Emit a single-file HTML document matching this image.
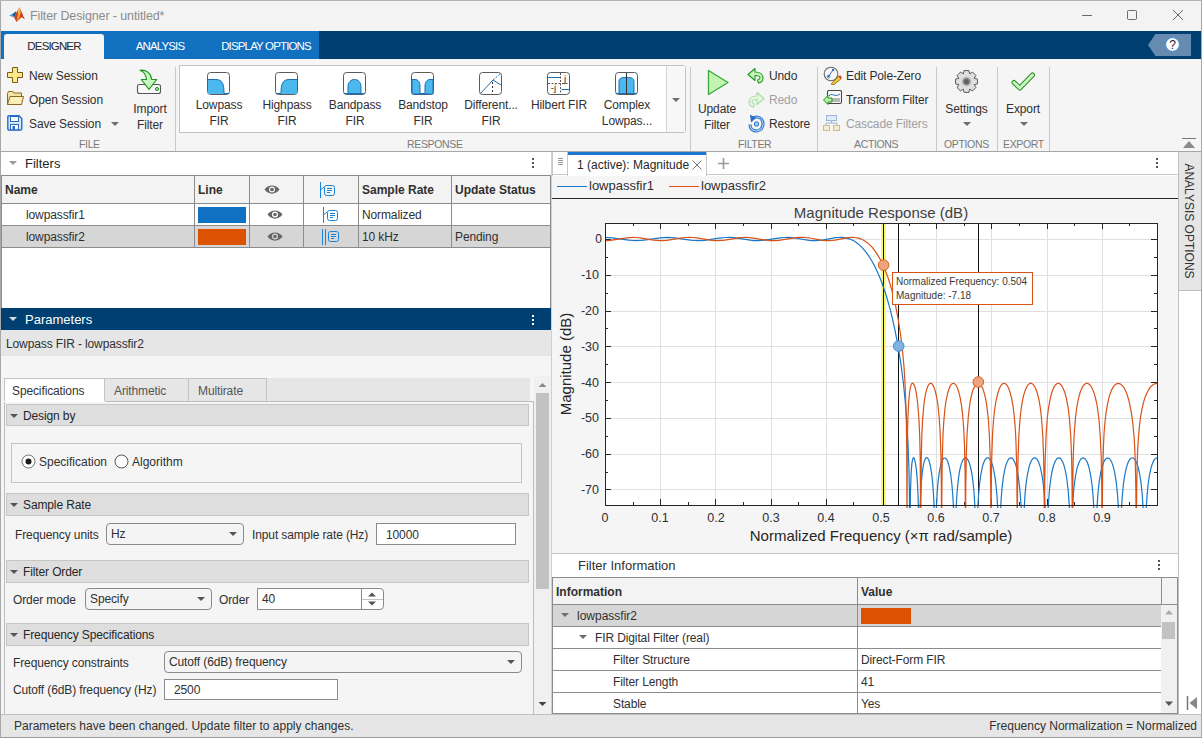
<!DOCTYPE html>
<html><head><meta charset="utf-8">
<style>
*{box-sizing:border-box}
html,body{margin:0;padding:0}
body{width:1202px;height:738px;overflow:hidden;position:relative;background:#f5f5f5;font-family:"Liberation Sans",sans-serif;font-size:12px;color:#303030;letter-spacing:-0.12px}
.ar{letter-spacing:0}
.a{position:absolute}
.t{position:absolute;white-space:nowrap;line-height:16px}
.c{text-align:center}
.lbl{position:absolute;color:#7a7a7a;font-size:10.5px;letter-spacing:-0.35px;line-height:12px;white-space:nowrap}
.sep{position:absolute;width:1px;background:#c8c8c8;top:67px;height:84px}
.hdr{position:absolute;left:6px;width:523px;height:23px;background:#dedede;border:1px solid #c6c6c6}
.hdr .tri{position:absolute;left:3px;top:9px;width:0;height:0;border-left:4px solid transparent;border-right:4px solid transparent;border-top:4px solid #555}
.hdr span{position:absolute;left:16px;top:3px;line-height:16px;font-size:12px;color:#262626}
.dd{position:absolute;background:#f4f4f4;border:1px solid #8a8a8a;border-radius:4px}
.dd span{position:absolute;left:4px;top:2px;line-height:16px}
.dd i{position:absolute;right:6px;top:8px;width:0;height:0;border-left:4px solid transparent;border-right:4px solid transparent;border-top:4px solid #555}
.inp{position:absolute;background:#fff;border:1px solid #8a8a8a}
.inp span{position:absolute;left:9px;top:2px;line-height:16px}
.kb{position:absolute;width:2px;height:2px;background:#555;box-shadow:0 4px 0 #555,0 8px 0 #555}
.ctri{position:absolute;width:0;height:0;border-left:4px solid transparent;border-right:4px solid transparent;border-top:4px solid #6e6e6e}
</style></head><body>
<!-- title bar -->
<div class="a" style="left:0;top:0;width:1202px;height:31px;background:#f3f3f3"></div>
<div class="a" style="left:0;top:0;width:1px;height:738px;background:#a8a8a8;z-index:50"></div><div class="a" style="left:0;top:0;width:1202px;height:1px;background:#b4b4b4;z-index:50"></div><div class="a" style="left:1201px;top:0;width:1px;height:738px;background:#a8a8a8;z-index:50"></div>
<svg class="a" style="left:0;top:0" width="30" height="30">
<path d="M9.2,15.6 L13.5,13.2 L16.5,11.2 L15.5,15.5 L13.5,17.2 Z" fill="#3d9be0"/>
<path d="M12.5,14.2 L16.2,11.3 L14.5,17 Z" fill="#24508a"/>
<path d="M14,17.2 L19.3,7.6 L21.5,11.5 L23.5,16.5 L25,19.3 L21.5,17.2 L16.5,22 Z" fill="#c8401c"/>
<path d="M16.5,21.5 L18.2,12 L19.3,7.6 L21,12.5 L19.5,17.5 Z" fill="#f0a030"/>
<path d="M18,10.5 L19.3,7.6 L20,10.5 L18.8,15 Z" fill="#f8c858"/>
</svg>
<div class="t" style="left:30px;top:8px;font-size:12.5px;color:#8c8c8c">Filter Designer - untitled*</div>
<div class="a" style="left:1082px;top:15px;width:10px;height:1px;background:#6a6a6a"></div>
<div class="a" style="left:1127px;top:10px;width:10px;height:10px;border:1px solid #6a6a6a;border-radius:1.5px"></div>
<svg class="a" style="left:1173px;top:10px" width="10" height="10"><path d="M0,0 L10,10 M10,0 L0,10" stroke="#666" stroke-width="1"/></svg>
<!-- tab strip -->
<div class="a" style="left:0;top:31px;width:319px;height:28px;background:#1170c0"></div>
<div class="a" style="left:319px;top:31px;width:883px;height:28px;background:#003f72"></div>
<div class="a" style="left:4px;top:34px;width:100px;height:25px;background:#f5f5f5;border-radius:3px 3px 0 0"></div>
<div class="t c" style="left:4px;top:38px;width:100px;font-size:11.5px;letter-spacing:-0.85px;color:#262626">DESIGNER</div>
<div class="t c" style="left:110px;top:38px;width:100px;font-size:11.5px;letter-spacing:-0.85px;color:#fff">ANALYSIS</div>
<div class="t c" style="left:216px;top:38px;width:100px;font-size:11.5px;letter-spacing:-0.85px;color:#fff">DISPLAY OPTIONS</div>
<svg class="a" style="left:1148px;top:34px" width="44" height="22"><path d="M0,11 L7.5,0 H43 V22 H7.5 Z" fill="#668bb0"/><circle cx="24.5" cy="10.5" r="6.8" fill="#fff" stroke="#3d8fe0" stroke-width="0.8"/><text x="24.5" y="15" font-family="Liberation Sans" font-size="12" fill="#222" text-anchor="middle" letter-spacing="0">?</text></svg>
<!-- ribbon -->
<div class="a" style="left:0;top:59px;width:1202px;height:92px;background:#f5f5f5"></div>
<div class="a" style="left:0;top:151px;width:1202px;height:1px;background:#a6a6a6"></div>
<!-- FILE section -->
<svg class="a" style="left:7px;top:67px" width="17" height="17"><path d="M5.5,0.5 H10.5 V5.5 H15.5 V10.5 H10.5 V15.5 H5.5 V10.5 H0.5 V5.5 H5.5 Z" fill="#fde88a" stroke="#7a5c10" stroke-width="1" stroke-linejoin="round"/></svg>
<div class="t" style="left:29px;top:68px">New Session</div>
<svg class="a" style="left:7px;top:91px" width="17" height="15"><path d="M0.5,2.5 L1.5,0.5 H6 L7,2 H14.5 V13.5 H0.5 Z" fill="#f4e2a0" stroke="#8a6a20"/><path d="M0.5,13.5 L3,5.5 H16.5 L14.5,13.5 Z" fill="#fbeeb8" stroke="#8a6a20"/></svg>
<div class="t" style="left:29px;top:92px">Open Session</div>
<svg class="a" style="left:7px;top:115px" width="16" height="16"><path d="M0.8,2 Q0.8,0.8 2,0.8 H12 L14.8,3.6 V13.8 Q14.8,15 13.6,15 H2 Q0.8,15 0.8,13.8 Z" fill="#d4e8fb" stroke="#2a6cc4" stroke-width="1.4"/><rect x="3.5" y="1.5" width="8" height="5" fill="#fff" stroke="#2a6cc4" stroke-width="1"/><rect x="3.5" y="9.5" width="8" height="5.3" fill="#fff" stroke="#2a6cc4" stroke-width="1"/><rect x="5.5" y="11" width="2.5" height="3.8" fill="#2a6cc4"/></svg>
<div class="t" style="left:29px;top:116px">Save Session</div>
<div class="ctri" style="left:111px;top:122px"></div>
<svg class="a" style="left:130px;top:64px" width="40" height="34"><rect x="7.5" y="20.5" width="23" height="9" rx="2" fill="#fafafa" stroke="#555" stroke-width="1.1"/><circle cx="27" cy="25" r="1.6" fill="#9fe09f" stroke="#1f961f" stroke-width="1"/><path d="M10,6.2 C16,5.5 21,9 21.7,15.5 L26.7,15.5 L19,25.3 L11.3,15.5 L16.5,15.5 C16,11 14,7.5 10,6.2 Z" fill="#c8f8c0" stroke="#1f961f" stroke-width="1.1" stroke-linejoin="round"/></svg>
<div class="t c" style="left:125px;top:101px;width:50px">Import</div>
<div class="t c" style="left:125px;top:117px;width:50px">Filter</div>
<div class="lbl" style="left:79px;top:138px">FILE</div>
<div class="sep" style="left:175px"></div>
<!-- RESPONSE gallery -->
<div class="a" style="left:179px;top:65px;width:507px;height:68px;background:#fff;border:1px solid #c3c3c3;border-radius:0 3px 3px 0"></div>
<div class="a" style="left:666px;top:66px;width:1px;height:66px;background:#d4d4d4"></div>
<div class="a" style="left:667px;top:66px;width:18px;height:66px;background:#f7f7f7"></div>
<div class="ctri" style="left:672px;top:98px"></div>
<svg class="a" style="left:206px;top:72px" width="25" height="24">
<rect x="1.5" y="0.5" width="22" height="22" rx="3" fill="#fff" stroke="#5a5a5a"/>
<path d="M2,7.5 H10 C17,7.5 18,13 18,22 H2 Z" fill="#4cb9ee"/><path d="M2,7.5 H10 C17,7.5 18,13 18,21.5 H23" fill="none" stroke="#1b6fb5" stroke-width="1"/></svg>
<div class="t c" style="left:185px;top:97px;width:68px">Lowpass</div>
<div class="t c" style="left:185px;top:113px;width:68px">FIR</div>
<svg class="a" style="left:274px;top:72px" width="25" height="24">
<rect x="1.5" y="0.5" width="22" height="22" rx="3" fill="#fff" stroke="#5a5a5a"/>
<path d="M23,7.5 H15 C8,7.5 7,13 7,22 H23 Z" fill="#4cb9ee"/><path d="M23,7.5 H15 C8,7.5 7,13 7,21.5 H2" fill="none" stroke="#1b6fb5" stroke-width="1"/></svg>
<div class="t c" style="left:253px;top:97px;width:68px">Highpass</div>
<div class="t c" style="left:253px;top:113px;width:68px">FIR</div>
<svg class="a" style="left:342px;top:72px" width="25" height="24">
<rect x="1.5" y="0.5" width="22" height="22" rx="3" fill="#fff" stroke="#5a5a5a"/>
<path d="M6,22 V15 C6,10 9,7.5 12.5,7.5 C16,7.5 19,10 19,15 V22 Z" fill="#4cb9ee" stroke="#1b6fb5"/><path d="M2,21.5 H23" stroke="#1b6fb5"/></svg>
<div class="t c" style="left:321px;top:97px;width:68px">Bandpass</div>
<div class="t c" style="left:321px;top:113px;width:68px">FIR</div>
<svg class="a" style="left:410px;top:72px" width="25" height="24">
<rect x="1.5" y="0.5" width="22" height="22" rx="3" fill="#fff" stroke="#5a5a5a"/>
<path d="M2,7.5 H5 C8,7.5 10,10 10,14 V21.5 H15 V14 C15,10 17,7.5 20,7.5 H23 V22 H2 Z" fill="#4cb9ee" stroke="#1b6fb5"/></svg>
<div class="t c" style="left:389px;top:97px;width:68px">Bandstop</div>
<div class="t c" style="left:389px;top:113px;width:68px">FIR</div>
<svg class="a" style="left:478px;top:72px" width="25" height="24">
<rect x="1.5" y="0.5" width="22" height="22" rx="3" fill="#fff" stroke="#5a5a5a"/>
<path d="M2.5,21.5 L15,8 L23,13" fill="none" stroke="#1b6fb5"/><path d="M15,8 L22,2" stroke="#1b6fb5" stroke-dasharray="2,1.5"/><path d="M14.5,10 V22" stroke="#333" stroke-dasharray="2,2"/></svg>
<div class="t c" style="left:457px;top:97px;width:68px">Different...</div>
<div class="t c" style="left:457px;top:113px;width:68px">FIR</div>
<svg class="a" style="left:546px;top:72px" width="25" height="24">
<rect x="1.5" y="0.5" width="22" height="22" rx="3" fill="#fff" stroke="#5a5a5a"/>
<path d="M2,5.5 H15 M15.5,17.5 H23" stroke="#1b6fb5" stroke-width="1.2"/><path d="M2,11.5 H23 M14.5,1 V22" stroke="#555" stroke-dasharray="2,1.5"/>
<text x="19" y="9.5" font-family="Liberation Sans" font-size="9.5" fill="#222" text-anchor="middle" letter-spacing="0">j</text><text x="7.5" y="19" font-family="Liberation Sans" font-size="9.5" fill="#222" text-anchor="middle" letter-spacing="0">-j</text></svg>
<div class="t c" style="left:525px;top:97px;width:68px">Hilbert FIR</div>
<svg class="a" style="left:614px;top:72px" width="25" height="24">
<rect x="1.5" y="0.5" width="22" height="22" rx="3" fill="#fff" stroke="#5a5a5a"/>
<path d="M5,21.5 V10 C5,6 7,5.5 12.5,5.5 C18,5.5 20,6 20,10 V21.5 Z" fill="#4cb9ee" stroke="#1b6fb5"/><path d="M2,21.5 H23" stroke="#1b6fb5"/><path d="M12.5,1 V22" stroke="#333"/></svg>
<div class="t c" style="left:593px;top:97px;width:68px">Complex</div>
<div class="t c" style="left:593px;top:113px;width:68px">Lowpas...</div>
<div class="lbl" style="left:407px;top:138px">RESPONSE</div>
<div class="sep" style="left:690px"></div>
<!-- FILTER section -->
<svg class="a" style="left:706px;top:69px" width="24" height="27"><path d="M2.5,1.5 L22,13.5 L2.5,25.5 Z" fill="#c4f4b4" stroke="#39a839" stroke-width="1.3" stroke-linejoin="round"/></svg>
<div class="t c" style="left:692px;top:101px;width:50px">Update</div>
<div class="t c" style="left:692px;top:117px;width:50px">Filter</div>
<svg class="a" style="left:747px;top:67px" width="18" height="17"><path d="M1,7.5 L8,1.5 L8,5 C13,5 16,7.5 16,11 C16,13.5 14.5,15.5 11.5,16 L10.5,13 C12,12.5 13,11.8 13,10.5 C13,9 11,8.5 8,8.5 L8,13.5 Z" fill="#c8f4b8" stroke="#1f961f" stroke-width="1.1" stroke-linejoin="round"/></svg>
<div class="t" style="left:769px;top:68px">Undo</div>
<svg class="a" style="left:747px;top:91px" width="18" height="17"><path d="M17,7.5 L10,1.5 L10,5 C5,5 2,7.5 2,11 C2,13.5 3.5,15.5 6.5,16 L7.5,13 C6,12.5 5,11.8 5,10.5 C5,9 7,8.5 10,8.5 L10,13.5 Z" fill="#e8f8e0" stroke="#a8dca0" stroke-width="1.1" stroke-linejoin="round"/></svg>
<div class="t" style="left:769px;top:92px;color:#a0a0a0">Redo</div>
<svg class="a" style="left:747px;top:114px" width="18" height="19"><path d="M5,4.5 C7,3.2 8,3 9.5,3 C13.5,3 16,6 16,10 C16,14 13,17 9.5,17 C6,17 3,14.5 3,10.5" fill="none" stroke="#2a6cc4" stroke-width="3.2"/><path d="M5,4.5 C7,3.2 8,3 9.5,3 C13.5,3 16,6 16,10 C16,14 13,17 9.5,17 C6,17 3,14.5 3,10.5" fill="none" stroke="#a8d0f4" stroke-width="1.2"/><path d="M3,0.5 L9,4 L4,8.5 Z" fill="#2a6cc4"/><circle cx="9.5" cy="10" r="2.2" fill="#a8d0f4" stroke="#2a6cc4"/></svg>
<div class="t" style="left:769px;top:116px">Restore</div>
<div class="lbl" style="left:738px;top:138px">FILTER</div>
<div class="sep" style="left:817px"></div>
<!-- ACTIONS -->
<svg class="a" style="left:823px;top:66px" width="19" height="19"><circle cx="8" cy="8" r="6.8" fill="#f6f6f6" stroke="#666" stroke-width="1.1"/><path d="M5,11 L10,4" stroke="#2d6bc0" stroke-width="1"/><circle cx="5.5" cy="10.5" r="1.3" fill="none" stroke="#2d6bc0"/><path d="M9,3 L11,5 M11,3 L9,5" stroke="#2d6bc0"/><path d="M8.5,17.5 L15.5,10.5 L18,13 L11,18.5 L8.5,18.5 Z" fill="#f4c430" stroke="#8a6a10" stroke-width="0.8"/><path d="M15.5,10.5 L17,9 L19,11.5 L18,13 Z" fill="#e04040"/></svg>
<div class="t" style="left:846px;top:68px">Edit Pole-Zero</div>
<svg class="a" style="left:823px;top:90px" width="19" height="18"><rect x="4.5" y="0.5" width="14" height="13" rx="1.5" fill="#f8f8f8" stroke="#444" stroke-width="1.1"/><path d="M6,6 C9,2 12,8 17,4" stroke="#2d6bc0" fill="none"/><path d="M9,9 H17 M9,11 H17" stroke="#777" stroke-width="1.2"/><path d="M0.5,10 L5,5.5 V8 H9 V12 H5 V14.5 Z" fill="#b8f0a8" stroke="#1f961f" stroke-linejoin="round"/></svg>
<div class="t" style="left:846px;top:92px">Transform Filter</div>
<svg class="a" style="left:823px;top:115px" width="17" height="16" opacity="0.45"><rect x="3.5" y="0.5" width="10" height="5" fill="#cfe3f7" stroke="#2d6bc0"/><path d="M8.5,5.5 V8 M3,8 H14 M3,8 V10 M14,8 V10" stroke="#2d6bc0"/><rect x="0.5" y="10.5" width="6" height="5" fill="#f6e2a0" stroke="#a07a20"/><rect x="10.5" y="10.5" width="6" height="5" fill="#f6e2a0" stroke="#a07a20"/></svg>
<div class="t" style="left:846px;top:116px;color:#a0a0a0">Cascade Filters</div>
<div class="lbl" style="left:854px;top:138px">ACTIONS</div>
<div class="sep" style="left:936px"></div>
<!-- OPTIONS -->
<svg class="a" style="left:953px;top:68px" width="27" height="27"><defs><radialGradient id="gg"><stop offset="0" stop-color="#555"/><stop offset="0.45" stop-color="#6a6a6a"/><stop offset="1" stop-color="#d8d8d8"/></radialGradient></defs><path d="M21.18,10.34 L24.43,11.06 L24.43,15.94 L21.18,16.66 L21.16,16.70 L22.96,19.50 L19.50,22.96 L16.70,21.16 L16.66,21.18 L15.94,24.43 L11.06,24.43 L10.34,21.18 L10.30,21.16 L7.50,22.96 L4.04,19.50 L5.84,16.70 L5.82,16.66 L2.57,15.94 L2.57,11.06 L5.82,10.34 L5.84,10.30 L4.04,7.50 L7.50,4.04 L10.30,5.84 L10.34,5.82 L11.06,2.57 L15.94,2.57 L16.66,5.82 L16.70,5.84 L19.50,4.04 L22.96,7.50 L21.16,10.30 Z" fill="#dedede" stroke="#5a5a5a" stroke-width="1" stroke-linejoin="round"/><circle cx="13.5" cy="13.5" r="5" fill="url(#gg)"/></svg>
<div class="t c" style="left:936px;top:101px;width:61px">Settings</div>
<div class="ctri" style="left:963px;top:122px"></div>
<div class="lbl" style="left:944px;top:138px">OPTIONS</div>
<div class="sep" style="left:997px"></div>
<!-- EXPORT -->
<svg class="a" style="left:1010px;top:71px" width="26" height="21"><path d="M4,11.5 L9.8,17 L22.5,4" fill="none" stroke="#2e8b2e" stroke-width="5" stroke-linecap="round" stroke-linejoin="round"/><path d="M4,11.5 L9.8,17 L22.5,4" fill="none" stroke="#c6f8bc" stroke-width="3" stroke-linecap="round" stroke-linejoin="round"/></svg>
<div class="t c" style="left:997px;top:101px;width:52px">Export</div>
<div class="ctri" style="left:1020px;top:122px"></div>
<div class="lbl" style="left:1003px;top:138px">EXPORT</div>
<div class="sep" style="left:1049px"></div>
<svg class="a" style="left:1182px;top:138px" width="14" height="11"><path d="M0,0.5 H14" stroke="#777"/><path d="M1,10 L7,3 L13,10 Z" fill="#8a8a8a"/></svg>
<!-- LEFT PANEL: Filters -->
<div class="a" style="left:1px;top:152px;width:550px;height:156px;background:#fff"></div>
<div class="a" style="left:9px;top:161px;width:0;height:0;border-left:4px solid transparent;border-right:4px solid transparent;border-top:4px solid #9a9a9a"></div>
<div class="t ar" style="left:25px;top:156px;font-size:13px;color:#262626">Filters</div>
<div class="kb" style="left:532px;top:158px"></div>
<div class="a" style="left:1px;top:175px;width:550px;height:133px;border:1px solid #8c8c8c;border-bottom:none;background:#fff"></div>
<div class="a" style="left:2px;top:176px;width:548px;height:27px;background:#f3f3f3"></div>
<div class="a" style="left:2px;top:203px;width:548px;height:1px;background:#8c8c8c"></div>
<div class="a" style="left:2px;top:226px;width:548px;height:22px;background:#d6d6d6"></div>
<div class="a" style="left:2px;top:225px;width:548px;height:1px;background:#8c8c8c"></div>
<div class="a" style="left:2px;top:247px;width:548px;height:1px;background:#8c8c8c"></div>
<div class="a" style="left:194px;top:176px;width:1px;height:72px;background:#8c8c8c"></div>
<div class="a" style="left:249px;top:176px;width:1px;height:72px;background:#8c8c8c"></div>
<div class="a" style="left:303px;top:176px;width:1px;height:72px;background:#8c8c8c"></div>
<div class="a" style="left:358px;top:176px;width:1px;height:72px;background:#8c8c8c"></div>
<div class="a" style="left:451px;top:176px;width:1px;height:72px;background:#8c8c8c"></div>
<div class="t ar" style="left:5px;top:182px;font-weight:bold">Name</div>
<div class="t ar" style="left:198px;top:182px;font-weight:bold">Line</div>
<div class="t ar" style="left:362px;top:182px;font-weight:bold">Sample Rate</div>
<div class="t ar" style="left:455px;top:182px;font-weight:bold">Update Status</div>
<svg class="a" style="left:264px;top:184px" width="16" height="11"><path d="M0.5,5.5 C4,0 12,0 15.5,5.5 C12,11 4,11 0.5,5.5 Z" fill="#666"/><circle cx="8" cy="5.5" r="3" fill="#f3f3f3"/><circle cx="8" cy="5.5" r="1.8" fill="#666"/></svg>
<svg class="a" style="left:319px;top:182px" width="17" height="16"><path d="M1.5,0 V16" stroke="#1a84d8"/><path d="M1.5,8 L5,5" stroke="#1a84d8"/><rect x="5.5" y="3.5" width="10" height="10" rx="2" fill="none" stroke="#1a84d8"/><path d="M8,6.5 H13 M8,8.5 H13 M8,10.5 H11" stroke="#1a84d8"/></svg>
<div class="t" style="left:26px;top:207px">lowpassfir1</div>
<div class="a" style="left:198px;top:207px;width:48px;height:16px;background:#1071c2"></div>
<svg class="a" style="left:267px;top:209px" width="16" height="11"><path d="M0.5,5.5 C4,0 12,0 15.5,5.5 C12,11 4,11 0.5,5.5 Z" fill="#666"/><circle cx="8" cy="5.5" r="3" fill="#fff"/><circle cx="8" cy="5.5" r="1.8" fill="#666"/></svg>
<svg class="a" style="left:322px;top:207px" width="17" height="16"><path d="M1.5,0 V16" stroke="#1a84d8"/><path d="M1.5,8 L5,5" stroke="#1a84d8"/><rect x="5.5" y="3.5" width="10" height="10" rx="2" fill="none" stroke="#1a84d8"/><path d="M8,6.5 H13 M8,8.5 H13 M8,10.5 H11" stroke="#1a84d8"/></svg>
<div class="t" style="left:362px;top:207px">Normalized</div>
<div class="t" style="left:26px;top:229px">lowpassfir2</div>
<div class="a" style="left:198px;top:229px;width:48px;height:16px;background:#dc5200"></div>
<svg class="a" style="left:267px;top:231px" width="16" height="11"><path d="M0.5,5.5 C4,0 12,0 15.5,5.5 C12,11 4,11 0.5,5.5 Z" fill="#666"/><circle cx="8" cy="5.5" r="3" fill="#d6d6d6"/><circle cx="8" cy="5.5" r="1.8" fill="#666"/></svg>
<svg class="a" style="left:321px;top:228px" width="20" height="18"><path d="M1.5,1 V17 M4.5,1 V17" stroke="#1a84d8"/><rect x="7.5" y="3.5" width="10" height="10" rx="2" fill="none" stroke="#1a84d8"/><path d="M10,6.5 H15 M10,8.5 H15 M10,10.5 H13" stroke="#1a84d8"/></svg>
<div class="t" style="left:362px;top:229px">10 kHz</div>
<div class="t" style="left:455px;top:229px">Pending</div>
<div class="a" style="left:550px;top:175px;width:1px;height:133px;background:#8c8c8c"></div>
<!-- Parameters -->
<div class="a" style="left:1px;top:308px;width:550px;height:22px;background:#003f72"></div>
<div class="a" style="left:9px;top:317px;width:0;height:0;border-left:4px solid transparent;border-right:4px solid transparent;border-top:4px solid #d8dde4"></div>
<div class="t ar" style="left:25px;top:312px;font-size:13px;color:#fff">Parameters</div>
<div class="kb" style="left:532px;top:315px;background:#fff;box-shadow:0 4px 0 #fff,0 8px 0 #fff"></div>
<div class="a" style="left:1px;top:330px;width:550px;height:26px;background:#e6e6e6"></div>
<div class="t" style="left:6px;top:336px">Lowpass FIR - lowpassfir2</div>
<div class="a" style="left:1px;top:356px;width:550px;height:358px;background:#f5f5f5"></div>
<!-- tabs -->
<div class="a" style="left:4px;top:378px;width:526px;height:24px;background:#e6e6e6"></div>
<div class="a" style="left:4px;top:378px;width:101px;height:24px;background:#fff;border:1px solid #c3c3c3;border-bottom:none"></div>
<div class="a" style="left:105px;top:378px;width:84px;height:23px;border:1px solid #c3c3c3;border-left:none;border-bottom:none"></div>
<div class="a" style="left:189px;top:378px;width:78px;height:23px;border:1px solid #c3c3c3;border-left:none;border-bottom:none"></div>
<div class="t" style="left:12px;top:383px;color:#333">Specifications</div>
<div class="t" style="left:114px;top:383px;color:#555">Arithmetic</div>
<div class="t" style="left:198px;top:383px;color:#555">Multirate</div>
<div class="a" style="left:4px;top:401px;width:530px;height:313px;border:1px solid #bdbdbd;border-bottom:none;background:#f5f5f5"></div>
<div class="a" style="left:4px;top:401px;width:101px;height:1px;background:#fff"></div>
<!-- scrollbar -->
<div class="a" style="left:534px;top:376px;width:17px;height:338px;background:#f0f0f0"></div>
<svg class="a" style="left:538px;top:382px" width="9" height="6"><path d="M0.5,5 L4.5,1 L8.5,5 Z" fill="#8a8a8a"/></svg>
<div class="a" style="left:536px;top:393px;width:13px;height:196px;background:#c2c2c2"></div>
<svg class="a" style="left:538px;top:701px" width="9" height="6"><path d="M0.5,1 L4.5,5 L8.5,1 Z" fill="#444"/></svg>
<!-- Design by -->
<div class="hdr" style="top:404px;height:22px"><div class="tri"></div><span>Design by</span></div>
<div class="a" style="left:11px;top:443px;width:511px;height:40px;border:1px solid #c3c3c3"></div>
<svg class="a" style="left:21px;top:454px" width="15" height="15"><circle cx="7.5" cy="7.5" r="6.5" fill="#fff" stroke="#666" stroke-width="0.9"/><circle cx="7.5" cy="7.5" r="3" fill="#1a1a1a"/></svg>
<div class="t ar" style="left:39px;top:454px">Specification</div>
<svg class="a" style="left:114px;top:454px" width="15" height="15"><circle cx="7.5" cy="7.5" r="6.5" fill="#fff" stroke="#555"/></svg>
<div class="t ar" style="left:132px;top:454px">Algorithm</div>
<!-- Sample Rate -->
<div class="hdr" style="top:493px"><div class="tri"></div><span>Sample Rate</span></div>
<div class="t" style="left:15px;top:527px">Frequency units</div>
<div class="dd" style="left:106px;top:523px;width:138px;height:22px"><span>Hz</span><i></i></div>
<div class="t" style="left:252px;top:527px">Input sample rate (Hz)</div>
<div class="inp" style="left:376px;top:523px;width:140px;height:22px"><span style="top:3px">10000</span></div>
<!-- Filter Order -->
<div class="hdr" style="top:560px"><div class="tri"></div><span>Filter Order</span></div>
<div class="t" style="left:13px;top:592px">Order mode</div>
<div class="dd" style="left:85px;top:588px;width:127px;height:22px"><span>Specify</span><i></i></div>
<div class="t" style="left:219px;top:592px">Order</div>
<div class="a" style="left:257px;top:588px;width:127px;height:22px;background:#fff;border:1px solid #8a8a8a;border-radius:0 4px 4px 0"></div>
<div class="a" style="left:361px;top:588px;width:1px;height:22px;background:#8a8a8a"></div>
<div class="a" style="left:362px;top:599px;width:21px;height:1px;background:#c3c3c3"></div>
<svg class="a" style="left:367px;top:591px" width="10" height="16"><path d="M1,5.5 L5,1.5 L9,5.5 Z M1,10.5 L5,14.5 L9,10.5 Z" fill="#555"/></svg>
<div class="t" style="left:262px;top:591px">40</div>
<!-- Frequency Specifications -->
<div class="hdr" style="top:623px"><div class="tri"></div><span>Frequency Specifications</span></div>
<div class="t" style="left:13px;top:655px">Frequency constraints</div>
<div class="dd" style="left:164px;top:651px;width:358px;height:22px"><span>Cutoff (6dB) frequency</span><i></i></div>
<div class="t" style="left:13px;top:682px">Cutoff (6dB) frequency (Hz)</div>
<div class="inp" style="left:164px;top:679px;width:174px;height:21px"><span>2500</span></div>
<!-- RIGHT PANEL -->
<div class="a" style="left:551px;top:152px;width:1px;height:562px;background:#d0d0d0"></div>
<div class="a" style="left:552px;top:152px;width:626px;height:24px;background:#fff;border-left:1px solid #c8c8c8"></div>
<div class="a" style="left:552px;top:152px;width:16px;height:24px;background:#fff;border:1px solid #c8c8c8;border-top:none;border-bottom:none"></div>
<div class="a" style="left:558px;top:158px;width:5px;height:1px;background:#999;box-shadow:0 2px 0 #999,0 4px 0 #999,0 6px 0 #999"></div>
<div class="a" style="left:568px;top:152px;width:139px;height:24px;background:#fff;border-right:1px solid #c8c8c8"></div>
<div class="a" style="left:568px;top:152px;width:138px;height:3px;background:#1a78d0"></div>
<div class="t ar" style="left:577px;top:157px;color:#262626">1 (active): Magnitude</div>
<svg class="a" style="left:692px;top:160px" width="10" height="10"><path d="M0.5,0.5 L9.5,9.5 M9.5,0.5 L0.5,9.5" stroke="#666" stroke-width="0.9"/></svg>
<svg class="a" style="left:718px;top:158px" width="11" height="11"><path d="M5.5,0 V11 M0,5.5 H11" stroke="#9a9a9a" stroke-width="1.6"/></svg>
<div class="kb" style="left:1156px;top:158px"></div>
<div class="a" style="left:552px;top:174px;width:16px;height:1px;background:#c8c8c8"></div><div class="a" style="left:707px;top:174px;width:471px;height:1px;background:#c8c8c8"></div>
<div class="a" style="left:552px;top:176px;width:626px;height:22px;background:#f5f5f5"></div>
<div class="a" style="left:557px;top:186px;width:30px;height:1px;background:#1a78c8"></div>
<div class="t ar" style="left:589px;top:178px;font-size:13px">lowpassfir1</div>
<div class="a" style="left:669px;top:186px;width:30px;height:1px;background:#d95319"></div>
<div class="t ar" style="left:701px;top:178px;font-size:13px">lowpassfir2</div>
<div class="a" style="left:552px;top:198px;width:626px;height:1px;background:#262626"></div>
<div class="a" style="left:552px;top:199px;width:626px;height:355px;background:#f5f5f5"></div>
<div class="a" style="left:552px;top:553px;width:626px;height:1px;background:#c8c8c8"></div>
<svg width="1202" height="738" style="position:absolute;left:0;top:0">
<defs><clipPath id="ax"><rect x="605" y="223" width="552" height="285"/></clipPath></defs>
<rect x="605" y="223" width="552" height="282" fill="#fff"/>
<path d="M660.5,223 V505 M715.5,223 V505 M771.5,223 V505 M826.5,223 V505 M881.5,223 V505 M936.5,223 V505 M991.5,223 V505 M1047.5,223 V505 M1102.5,223 V505 M605,239.5 H1157 M605,275.5 H1157 M605,311.5 H1157 M605,346.5 H1157 M605,382.5 H1157 M605,418.5 H1157 M605,454.5 H1157 M605,489.5 H1157" stroke="#dfdfdf" stroke-width="1" fill="none"/>
<path d="M605.5,505 v-6 M605.5,223 v6 M633.5,505 v-3 M633.5,223 v3 M660.5,505 v-6 M660.5,223 v6 M688.5,505 v-3 M688.5,223 v3 M715.5,505 v-6 M715.5,223 v6 M743.5,505 v-3 M743.5,223 v3 M771.5,505 v-6 M771.5,223 v6 M798.5,505 v-3 M798.5,223 v3 M826.5,505 v-6 M826.5,223 v6 M853.5,505 v-3 M853.5,223 v3 M881.5,505 v-6 M881.5,223 v6 M909.5,505 v-3 M909.5,223 v3 M936.5,505 v-6 M936.5,223 v6 M964.5,505 v-3 M964.5,223 v3 M991.5,505 v-6 M991.5,223 v6 M1019.5,505 v-3 M1019.5,223 v3 M1047.5,505 v-6 M1047.5,223 v6 M1074.5,505 v-3 M1074.5,223 v3 M1102.5,505 v-6 M1102.5,223 v6 M1129.5,505 v-3 M1129.5,223 v3 M1157.5,505 v-6 M1157.5,223 v6 M605,239.5 h6 M1157,239.5 h-6 M605,257.5 h3 M1157,257.5 h-3 M605,275.5 h6 M1157,275.5 h-6 M605,293.5 h3 M1157,293.5 h-3 M605,311.5 h6 M1157,311.5 h-6 M605,328.5 h3 M1157,328.5 h-3 M605,346.5 h6 M1157,346.5 h-6 M605,364.5 h3 M1157,364.5 h-3 M605,382.5 h6 M1157,382.5 h-6 M605,400.5 h3 M1157,400.5 h-3 M605,418.5 h6 M1157,418.5 h-6 M605,436.5 h3 M1157,436.5 h-3 M605,454.5 h6 M1157,454.5 h-6 M605,472.5 h3 M1157,472.5 h-3 M605,489.5 h6 M1157,489.5 h-6" stroke="#262626" stroke-width="1" fill="none"/>
<rect x="881" y="223" width="5" height="282" fill="#f8f870"/>
<path d="M883.5,223 V505 M898.5,223 V505 M978.5,223 V505" stroke="#111" stroke-width="1"/>
<g clip-path="url(#ax)">
<path d="M605.0,237.4 L612.2,237.8 L628.6,240.2 L632.6,240.5 L636.3,240.7 L640.1,240.5 L644.0,240.2 L660.2,237.8 L667.2,237.4 L674.4,237.8 L690.3,240.2 L694.1,240.5 L697.8,240.7 L704.6,240.3 L718.9,238.1 L725.7,237.5 L729.8,237.4 L734.1,237.7 L750.2,240.2 L753.9,240.6 L757.4,240.7 L760.9,240.5 L764.7,240.2 L780.3,237.8 L784.1,237.5 L787.8,237.4 L791.2,237.6 L794.8,238.0 L809.1,240.3 L812.5,240.6 L815.6,240.7 L818.8,240.5 L822.2,240.1 L835.6,237.7 L838.7,237.5 L841.5,237.4 L844.2,237.6 L846.6,238.1 L849.1,238.8 L851.4,239.7 L853.7,240.8 L856.0,242.3 L858.2,243.9 L860.4,245.9 L863.3,248.9 L866.1,252.3 L868.9,256.2 L871.6,260.5 L874.2,265.3 L876.8,270.6 L879.3,276.2 L881.7,282.3 L884.0,288.9 L886.3,295.8 L890.6,310.9 L894.4,327.3 L897.9,345.1 L900.8,363.2 L903.3,382.3 L905.3,402.1 L906.9,422.9 L908.0,443.8 L908.9,467.0 L909.4,491.7 L909.7,525.2 L910.0,525.2 L910.1,524.4 L910.4,493.8 L911.1,473.4 L911.6,466.7 L912.1,461.9 L912.8,458.9 L913.1,458.2 L913.5,457.8 L913.9,458.0 L914.4,458.9 L915.3,462.5 L916.2,468.4 L917.0,476.4 L917.6,486.0 L918.1,497.0 L918.9,525.2 L919.8,525.2 L920.1,508.3 L920.7,494.3 L921.3,482.4 L922.2,473.3 L923.1,466.6 L924.1,461.9 L925.3,458.8 L925.8,458.0 L926.4,457.6 L927.2,457.7 L927.9,458.5 L928.7,459.9 L929.4,462.0 L930.7,467.7 L931.9,475.5 L932.8,484.6 L933.6,496.0 L934.1,508.1 L934.6,525.2 L935.9,525.2 L936.4,508.0 L937.1,494.7 L937.9,483.1 L939.1,473.7 L940.2,467.4 L941.4,462.5 L942.1,460.7 L942.9,459.3 L943.6,458.4 L944.3,458.0 L945.3,458.0 L946.1,458.7 L947.0,460.0 L947.9,462.0 L949.4,467.6 L950.8,475.3 L951.9,484.5 L952.8,495.3 L953.5,508.2 L954.1,525.2 L955.6,525.2 L956.0,510.7 L956.7,497.8 L957.5,487.4 L958.5,478.1 L959.3,472.4 L960.3,467.6 L961.4,463.6 L962.6,460.7 L963.6,459.0 L964.7,458.1 L965.8,457.9 L966.8,458.5 L967.9,459.9 L969.0,462.1 L969.9,464.9 L970.8,468.5 L971.7,472.9 L972.5,478.2 L973.9,490.5 L974.8,505.0 L975.6,525.2 L977.2,525.2 L977.8,508.9 L978.5,495.9 L979.5,484.8 L980.6,475.9 L982.1,468.2 L982.9,465.0 L983.8,462.5 L984.7,460.4 L985.7,459.0 L986.7,458.1 L987.7,457.8 L988.7,458.1 L989.7,459.0 L990.7,460.4 L991.6,462.4 L992.5,465.1 L993.3,468.2 L994.8,475.9 L996.0,485.1 L997.0,495.9 L997.7,508.3 L998.4,525.2 L1000.0,525.2 L1000.6,510.9 L1001.2,498.3 L1002.1,487.6 L1003.2,478.4 L1004.2,472.6 L1005.2,467.7 L1006.4,463.7 L1007.7,460.7 L1008.9,459.0 L1010.0,458.1 L1011.2,457.9 L1012.4,458.5 L1013.5,459.9 L1014.6,461.9 L1015.7,464.8 L1016.7,468.4 L1017.7,472.8 L1018.5,478.0 L1020.0,490.7 L1021.1,505.9 L1021.9,525.2 L1023.6,525.2 L1024.2,509.2 L1024.9,496.1 L1025.9,485.1 L1027.2,475.9 L1028.8,468.2 L1029.6,465.1 L1030.5,462.5 L1031.5,460.5 L1032.5,459.0 L1033.6,458.1 L1034.6,457.8 L1035.7,458.1 L1036.8,459.0 L1037.8,460.5 L1038.7,462.5 L1039.7,465.2 L1040.6,468.3 L1042.1,476.0 L1043.4,485.1 L1044.4,496.0 L1045.2,508.9 L1045.8,525.2 L1047.5,525.2 L1048.1,509.9 L1048.8,498.0 L1049.7,487.3 L1050.9,478.2 L1051.9,472.3 L1053.0,467.5 L1054.2,463.7 L1055.5,460.7 L1056.7,459.0 L1057.9,458.1 L1059.2,457.9 L1060.4,458.5 L1061.5,459.9 L1062.7,462.1 L1063.8,464.9 L1064.8,468.4 L1065.8,472.9 L1066.7,478.0 L1068.2,490.7 L1069.3,506.2 L1070.1,525.2 L1071.8,525.2 L1072.5,508.7 L1073.2,496.1 L1074.2,485.3 L1075.5,476.0 L1077.1,468.2 L1078.0,465.2 L1079.0,462.5 L1080.0,460.5 L1081.0,459.0 L1082.1,458.2 L1083.2,457.9 L1084.3,458.2 L1085.3,459.1 L1086.3,460.5 L1087.4,462.6 L1088.3,465.3 L1089.2,468.3 L1090.8,476.1 L1092.1,485.5 L1093.1,496.3 L1093.9,509.0 L1094.5,525.2 L1096.3,525.2 L1097.0,508.1 L1097.9,494.0 L1099.1,482.4 L1100.6,473.1 L1102.1,466.7 L1103.8,461.9 L1104.7,460.2 L1105.7,458.9 L1106.7,458.2 L1107.7,457.9 L1108.7,458.2 L1109.7,458.9 L1110.6,460.2 L1111.6,461.9 L1113.3,466.7 L1114.8,473.1 L1116.3,482.8 L1117.5,494.5 L1118.4,507.9 L1119.1,525.2 L1120.8,525.2 L1121.5,508.4 L1122.3,496.0 L1123.3,485.3 L1124.6,476.1 L1126.2,468.3 L1127.1,465.3 L1128.1,462.6 L1129.1,460.6 L1130.1,459.1 L1131.2,458.2 L1132.3,457.8 L1133.3,458.1 L1134.3,458.8 L1135.2,460.0 L1136.2,461.7 L1137.9,466.5 L1139.5,473.0 L1141.0,482.6 L1142.2,494.2 L1143.1,508.4 L1143.8,524.8 L1143.8,525.2 L1145.5,525.2 L1146.2,509.0 L1147.0,496.4 L1148.0,485.2 L1149.3,476.0 L1150.9,468.3 L1151.8,465.3 L1152.8,462.7 L1153.8,460.6 L1154.8,459.2 L1155.8,458.2 L1157.0,457.9" stroke="#1a78c8" stroke-width="1.2" fill="none"/>
<path d="M605.0,240.7 L608.4,240.6 L611.9,240.2 L626.6,237.8 L633.1,237.4 L636.5,237.5 L640.1,237.9 L653.5,240.1 L659.4,240.6 L663.0,240.7 L666.6,240.4 L681.9,237.9 L685.7,237.5 L689.4,237.4 L693.0,237.5 L696.8,237.9 L711.9,240.4 L715.3,240.6 L718.5,240.7 L724.9,240.1 L738.8,237.8 L742.2,237.5 L745.5,237.4 L752.0,237.8 L766.6,240.2 L770.1,240.6 L773.5,240.7 L776.9,240.6 L780.4,240.2 L795.5,237.7 L799.4,237.4 L803.2,237.4 L809.5,238.0 L822.6,240.3 L825.8,240.6 L828.8,240.7 L831.9,240.5 L835.1,240.1 L847.7,237.7 L852.8,237.4 L855.1,237.5 L857.4,237.9 L859.5,238.4 L861.6,239.2 L863.6,240.2 L865.6,241.4 L867.6,242.9 L869.5,244.6 L872.1,247.2 L874.6,250.4 L877.0,253.9 L879.4,257.9 L881.7,262.3 L883.9,267.1 L886.0,272.3 L888.1,278.0 L890.1,284.0 L891.9,290.4 L895.3,304.2 L898.2,319.3 L900.7,335.6 L902.5,350.8 L904.0,366.9 L905.1,384.3 L905.8,402.9 L906.4,424.8 L906.7,449.2 L907.0,525.2 L907.3,454.0 L907.5,432.7 L908.0,415.4 L908.7,401.8 L909.6,392.1 L910.2,388.6 L910.8,385.9 L911.5,384.1 L912.2,383.2 L912.7,383.1 L913.2,383.4 L914.2,385.1 L915.2,388.0 L916.1,392.2 L916.9,397.3 L917.7,403.7 L918.9,418.7 L919.7,435.6 L920.2,458.1 L920.7,525.2 L921.3,457.5 L921.8,435.8 L922.6,419.6 L923.8,405.4 L924.6,399.6 L925.4,394.5 L926.4,390.3 L927.5,387.0 L928.6,384.8 L929.8,383.5 L930.4,383.3 L931.1,383.4 L931.9,383.8 L932.6,384.6 L933.9,387.0 L935.2,390.8 L936.3,395.5 L937.4,401.5 L938.3,408.5 L939.1,416.6 L940.2,433.2 L940.9,454.9 L941.3,481.2 L941.6,525.2 L942.1,468.2 L942.5,450.4 L943.0,434.9 L943.8,421.4 L944.8,410.1 L946.1,400.6 L947.7,393.0 L949.4,387.8 L950.3,385.9 L951.2,384.5 L952.2,383.7 L953.1,383.3 L954.1,383.5 L955.1,384.1 L956.1,385.3 L957.0,387.0 L958.7,391.7 L960.3,398.3 L961.6,406.4 L962.6,414.3 L963.3,423.5 L964.0,434.1 L964.5,446.4 L965.1,472.9 L965.5,525.2 L965.6,525.2 L965.8,485.5 L966.3,456.3 L967.0,435.3 L968.2,418.0 L969.0,410.4 L969.9,403.3 L971.0,397.5 L972.2,392.6 L973.5,388.6 L975.0,385.7 L975.8,384.6 L976.5,383.8 L977.3,383.4 L978.1,383.3 L978.9,383.4 L979.7,383.9 L980.5,384.6 L981.3,385.7 L982.8,388.6 L984.1,392.7 L985.4,397.7 L986.5,403.7 L987.4,410.6 L988.3,418.6 L989.4,435.5 L990.2,457.3 L990.7,485.9 L990.9,525.2 L991.0,525.2 L991.5,466.4 L992.0,449.5 L992.5,434.9 L993.4,421.5 L994.5,410.5 L996.0,401.0 L997.7,393.5 L999.5,388.2 L1000.5,386.2 L1001.5,384.8 L1002.6,383.8 L1003.7,383.4 L1004.8,383.5 L1005.8,384.1 L1006.9,385.2 L1007.9,386.8 L1008.9,389.0 L1009.8,391.5 L1011.5,397.9 L1013.0,406.1 L1014.0,414.0 L1014.9,423.4 L1015.6,433.8 L1016.1,446.1 L1016.8,472.1 L1017.2,525.2 L1017.3,525.2 L1017.6,483.4 L1018.1,456.9 L1018.9,434.9 L1020.1,418.2 L1021.0,410.2 L1022.0,403.4 L1023.1,397.5 L1024.4,392.6 L1025.9,388.6 L1027.4,385.7 L1028.2,384.6 L1029.1,383.9 L1029.9,383.4 L1030.7,383.3 L1031.6,383.4 L1032.4,383.9 L1033.3,384.6 L1034.1,385.7 L1035.7,388.7 L1037.2,392.8 L1038.5,397.9 L1039.7,403.8 L1040.7,410.6 L1041.5,418.5 L1042.8,435.8 L1043.6,457.8 L1044.1,484.6 L1044.3,525.2 L1044.5,525.2 L1044.8,479.3 L1045.3,455.5 L1046.1,434.7 L1047.3,418.0 L1048.2,410.3 L1049.3,403.3 L1050.5,397.4 L1051.8,392.5 L1053.3,388.6 L1054.9,385.7 L1055.7,384.7 L1056.5,384.0 L1057.4,383.5 L1058.3,383.4 L1059.2,383.5 L1060.0,384.0 L1060.9,384.7 L1061.7,385.8 L1063.3,388.7 L1064.9,392.7 L1066.2,397.7 L1067.4,403.6 L1068.5,410.4 L1069.4,418.4 L1070.7,435.4 L1071.6,457.5 L1072.0,482.1 L1072.4,525.2 L1072.5,525.2 L1072.9,477.0 L1073.3,455.1 L1074.2,434.3 L1075.5,417.9 L1076.4,410.2 L1077.5,403.2 L1078.8,397.4 L1080.1,392.5 L1081.7,388.6 L1083.4,385.7 L1084.2,384.7 L1085.1,384.0 L1086.0,383.5 L1086.9,383.4 L1087.9,383.5 L1088.8,384.0 L1089.7,384.8 L1090.7,385.8 L1092.4,388.9 L1094.0,392.9 L1095.5,398.0 L1096.8,404.0 L1097.9,411.1 L1098.9,419.0 L1100.2,435.5 L1101.2,456.8 L1101.7,484.7 L1102.0,525.2 L1102.2,525.2 L1102.6,473.8 L1103.5,445.1 L1104.1,432.5 L1105.0,421.8 L1106.1,412.4 L1107.5,404.2 L1109.3,396.4 L1110.4,393.1 L1111.5,390.3 L1112.7,387.9 L1113.9,386.1 L1115.2,384.7 L1116.5,383.8 L1117.9,383.4 L1119.3,383.6 L1120.8,384.2 L1122.1,385.4 L1123.5,387.1 L1124.8,389.3 L1126.0,391.9 L1127.2,395.0 L1128.4,398.8 L1129.5,403.1 L1131.4,412.8 L1132.9,424.2 L1134.1,437.4 L1134.9,451.4 L1135.4,467.4 L1135.9,492.9 L1136.1,524.1 L1136.2,525.2 L1136.3,525.2 L1136.8,482.4 L1137.4,456.0 L1138.0,444.3 L1138.7,434.2 L1139.5,425.4 L1140.5,417.4 L1141.9,409.6 L1143.4,402.9 L1145.1,397.2 L1147.1,392.4 L1149.3,388.6 L1150.5,387.0 L1151.8,385.7 L1153.0,384.7 L1154.3,384.0 L1155.6,383.6 L1157.0,383.4" stroke="#d95319" stroke-width="1.2" fill="none"/>
</g>
<circle cx="883.6" cy="265.1" r="5.3" fill="#eea47c" stroke="#d9641f" stroke-width="1"/>
<circle cx="898.7" cy="346.1" r="5.3" fill="#7fb3e3" stroke="#3f8fd4" stroke-width="1"/>
<circle cx="978.3" cy="382.0" r="5.3" fill="#eea47c" stroke="#d9641f" stroke-width="1"/>
<rect x="605.5" y="223.5" width="552" height="282" fill="none" stroke="#262626" stroke-width="1"/>
</svg>
<div class="t ar c" style="left:681px;top:204px;width:400px;font-size:15px;line-height:18px;color:#404040">Magnitude Response (dB)</div>
<div class="t ar" style="left:592px;top:231px;width:10px;text-align:right;color:#262626">0</div>
<div class="t ar" style="left:569px;top:267px;width:30px;text-align:right;font-size:12.5px">-10</div>
<div class="t ar" style="left:569px;top:303px;width:30px;text-align:right;font-size:12.5px">-20</div>
<div class="t ar" style="left:569px;top:339px;width:30px;text-align:right;font-size:12.5px">-30</div>
<div class="t ar" style="left:569px;top:375px;width:30px;text-align:right;font-size:12.5px">-40</div>
<div class="t ar" style="left:569px;top:410px;width:30px;text-align:right;font-size:12.5px">-50</div>
<div class="t ar" style="left:569px;top:446px;width:30px;text-align:right;font-size:12.5px">-60</div>
<div class="t ar" style="left:569px;top:482px;width:30px;text-align:right;font-size:12.5px">-70</div>
<div class="t ar c" style="left:585px;top:510px;width:40px;font-size:12.5px">0</div>
<div class="t ar c" style="left:640px;top:510px;width:40px;font-size:12.5px">0.1</div>
<div class="t ar c" style="left:696px;top:510px;width:40px;font-size:12.5px">0.2</div>
<div class="t ar c" style="left:751px;top:510px;width:40px;font-size:12.5px">0.3</div>
<div class="t ar c" style="left:806px;top:510px;width:40px;font-size:12.5px">0.4</div>
<div class="t ar c" style="left:861px;top:510px;width:40px;font-size:12.5px">0.5</div>
<div class="t ar c" style="left:916px;top:510px;width:40px;font-size:12.5px">0.6</div>
<div class="t ar c" style="left:971px;top:510px;width:40px;font-size:12.5px">0.7</div>
<div class="t ar c" style="left:1027px;top:510px;width:40px;font-size:12.5px">0.8</div>
<div class="t ar c" style="left:1082px;top:510px;width:40px;font-size:12.5px">0.9</div>
<div class="t ar c" style="left:731px;top:527px;width:300px;font-size:15px;line-height:18px;color:#262626">Normalized Frequency (×π rad/sample)</div>
<div class="t ar c" style="left:466px;top:355px;width:200px;font-size:15px;line-height:18px;transform:rotate(-90deg);color:#262626">Magnitude (dB)</div>
<div class="a" style="left:892px;top:272px;width:141px;height:33px;background:#fff;border:1.5px solid #d95319"></div>
<div class="t ar" style="left:896px;top:275px;font-size:10px;line-height:14px;color:#3a3a3a">Normalized Frequency: 0.504</div>
<div class="t ar" style="left:896px;top:289px;font-size:10px;line-height:14px;color:#3a3a3a">Magnitude: -7.18</div>
<!-- Filter Information -->
<div class="a" style="left:552px;top:554px;width:626px;height:23px;background:#fff"></div>
<div class="t ar" style="left:578px;top:558px;font-size:13px">Filter Information</div>
<div class="kb" style="left:1158px;top:560px"></div>
<div class="a" style="left:552px;top:577px;width:626px;height:137px;background:#fff;border:1px solid #8c8c8c;border-bottom:none"></div>
<div class="a" style="left:553px;top:578px;width:624px;height:26px;background:#f3f3f3"></div>
<div class="a" style="left:553px;top:604px;width:624px;height:1px;background:#8c8c8c"></div>
<div class="a" style="left:553px;top:605px;width:608px;height:21px;background:#d6d6d6"></div>
<div class="a" style="left:553px;top:626px;width:608px;height:1px;background:#8c8c8c"></div>
<div class="a" style="left:553px;top:648px;width:608px;height:1px;background:#8c8c8c"></div>
<div class="a" style="left:553px;top:670px;width:608px;height:1px;background:#8c8c8c"></div>
<div class="a" style="left:553px;top:692px;width:608px;height:1px;background:#8c8c8c"></div>
<div class="a" style="left:857px;top:578px;width:1px;height:136px;background:#8c8c8c"></div>
<div class="a" style="left:1161px;top:578px;width:1px;height:26px;background:#8c8c8c"></div>
<div class="a" style="left:1161px;top:605px;width:16px;height:109px;background:#f0f0f0"></div>
<div class="a" style="left:552px;top:713px;width:626px;height:1px;background:#8c8c8c"></div>
<svg class="a" style="left:1164px;top:609px" width="10" height="6"><path d="M1,5.5 L5,1 L9,5.5 Z" fill="#aaa"/></svg>
<div class="a" style="left:1162px;top:622px;width:13px;height:17px;background:#c2c2c2"></div>
<svg class="a" style="left:1164px;top:701px" width="10" height="6"><path d="M1,0.5 L5,5 L9,0.5 Z" fill="#555"/></svg>
<div class="t ar" style="left:556px;top:584px;font-weight:bold">Information</div>
<div class="t ar" style="left:861px;top:584px;font-weight:bold">Value</div>
<div class="ctri" style="left:561px;top:613px"></div>
<div class="t ar" style="left:577px;top:608px">lowpassfir2</div>
<div class="a" style="left:861px;top:608px;width:50px;height:16px;background:#dc5200"></div>
<div class="ctri" style="left:579px;top:635px"></div>
<div class="t" style="left:595px;top:630px">FIR Digital Filter (real)</div>
<div class="t" style="left:613px;top:652px">Filter Structure</div>
<div class="t" style="left:861px;top:652px">Direct-Form FIR</div>
<div class="t" style="left:613px;top:674px">Filter Length</div>
<div class="t" style="left:861px;top:674px">41</div>
<div class="t" style="left:613px;top:696px">Stable</div>
<div class="t" style="left:861px;top:696px">Yes</div>
<!-- right strip -->
<div class="a" style="left:1178px;top:152px;width:24px;height:562px;background:#fff;border-left:1px solid #c0c0c0"></div>
<div class="a" style="left:1179px;top:152px;width:22px;height:139px;background:#e6e6e6;border-bottom:1px solid #bdbdbd"></div>
<div class="t ar" style="left:1122px;top:213px;width:134px;font-size:12px;transform:rotate(90deg);color:#333;text-align:center">ANALYSIS OPTIONS</div>
<svg class="a" style="left:1186px;top:696px" width="12" height="14"><path d="M1.5,0 V14" stroke="#777" stroke-width="1.5"/><path d="M11,1 L3.5,7 L11,13 Z" fill="#888"/></svg>
<!-- status bar -->
<div class="a" style="left:0;top:714px;width:1202px;height:24px;background:#e6e6e6;border-top:1px solid #c0c0c0;border-bottom:1px solid #9a9a9a"></div>
<div class="t ar" style="left:14px;top:718px">Parameters have been changed. Update filter to apply changes.</div>
<div class="t ar" style="left:897px;top:718px;width:300px;text-align:right">Frequency Normalization = Normalized</div>
</body></html>
